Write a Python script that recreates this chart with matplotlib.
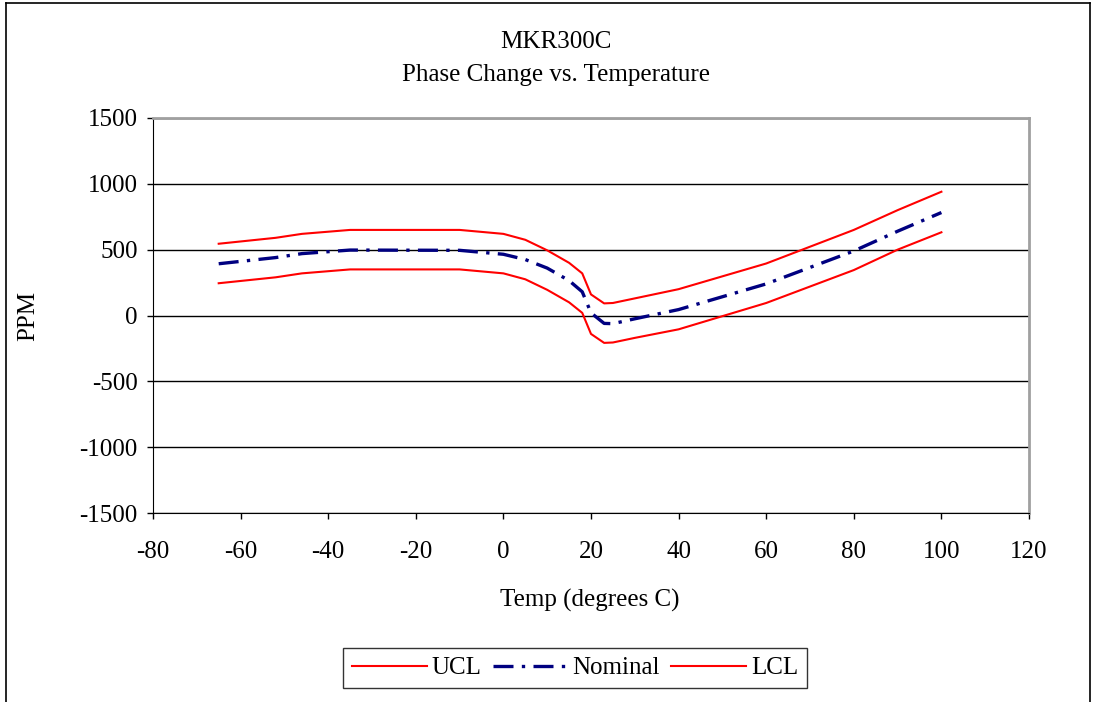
import matplotlib
matplotlib.use('agg')
from matplotlib import pyplot as plt
from matplotlib.lines import Line2D

plt.rcParams['font.family'] = ['Liberation Serif', 'DejaVu Serif']
plt.rcParams['axes.unicode_minus'] = False

temp = [-65, -52, -46, -35, -10, 0, 5, 10, 15, 18, 20, 23, 25, 30, 40, 60, 80, 90, 100]
ucl = [545, 590, 620, 650, 650, 620, 575, 495, 400, 320, 160, 92, 95, 130, 200, 395, 650, 800, 940]
nominal = [393, 440, 470, 497, 495, 465, 425, 360, 265, 180, 20, -60, -62, -25, 45, 240, 490, 640, 782]
lcl = [245, 290, 320, 350, 350, 320, 275, 195, 100, 20, -140, -208, -205, -170, -105, 95, 345, 500, 632]

fig = plt.figure(figsize=(10.94, 7.02), dpi=100)
ax = fig.add_axes([153 / 1094, 1 - 513 / 702, 876 / 1094, 395 / 702])

ax.plot(temp, ucl, color='#ff0000', lw=1.5, label='UCL')
ax.plot(temp, nominal, color='#000080', lw=2.4, dashes=(6, 2.5, 1, 2.5), label='Nominal')
ax.plot(temp, lcl, color='#ff0000', lw=1.5, label='LCL')

ax.set_xlim(-80, 120)
ax.set_ylim(-1500, 1500)
ax.set_xticks(range(-80, 121, 20))
ax.set_yticks(range(-1500, 1501, 500))
ax.yaxis.grid(True, color='black', lw=1)
ax.set_axisbelow(True)
ax.tick_params(labelsize=18, direction='out', length=4, width=1, color='black')
ax.tick_params(axis='x', pad=16)
ax.tick_params(axis='y', pad=7)

for side in ['top', 'right']:
    ax.spines[side].set_color('#a0a0a0')
    ax.spines[side].set_linewidth(2)
ax.spines['left'].set_color('black')
ax.spines['bottom'].set_color('black')

ax.set_xlabel('Temp (degrees C)', fontsize=18, va='center')
ax.xaxis.set_label_coords((590 - 153) / 876, (513 - 600) / 395)
ax.set_ylabel('PPM', fontsize=18, va='center')
ax.yaxis.set_label_coords((28 - 153) / 876, 0.5)

fig.text(556 / 1094, 1 - 42 / 702, 'MKR300C', ha='center', va='center', fontsize=18)
fig.text(556 / 1094, 1 - 75 / 702, 'Phase Change vs. Temperature', ha='center', va='center', fontsize=18)

leg = fig.legend(loc='center', bbox_to_anchor=(575 / 1094, 1 - 668 / 702), ncol=3,
                 fontsize=18, frameon=True, fancybox=False, handlelength=3.0,
                 columnspacing=0.45, handletextpad=0.2, borderpad=0.35,
                 borderaxespad=0)
leg.get_frame().set_edgecolor('black')
leg.get_frame().set_linewidth(1)

# outer chart border
fig.add_artist(Line2D([6 / 1094, 6 / 1094], [0, 1 - 3 / 702], color='black', lw=1.2))
fig.add_artist(Line2D([6 / 1094, 1090 / 1094], [1 - 3 / 702, 1 - 3 / 702], color='black', lw=1.2))
fig.add_artist(Line2D([1090 / 1094, 1090 / 1094], [0, 1 - 3 / 702], color='black', lw=1.2))

fig.savefig('out.png', dpi=100)
